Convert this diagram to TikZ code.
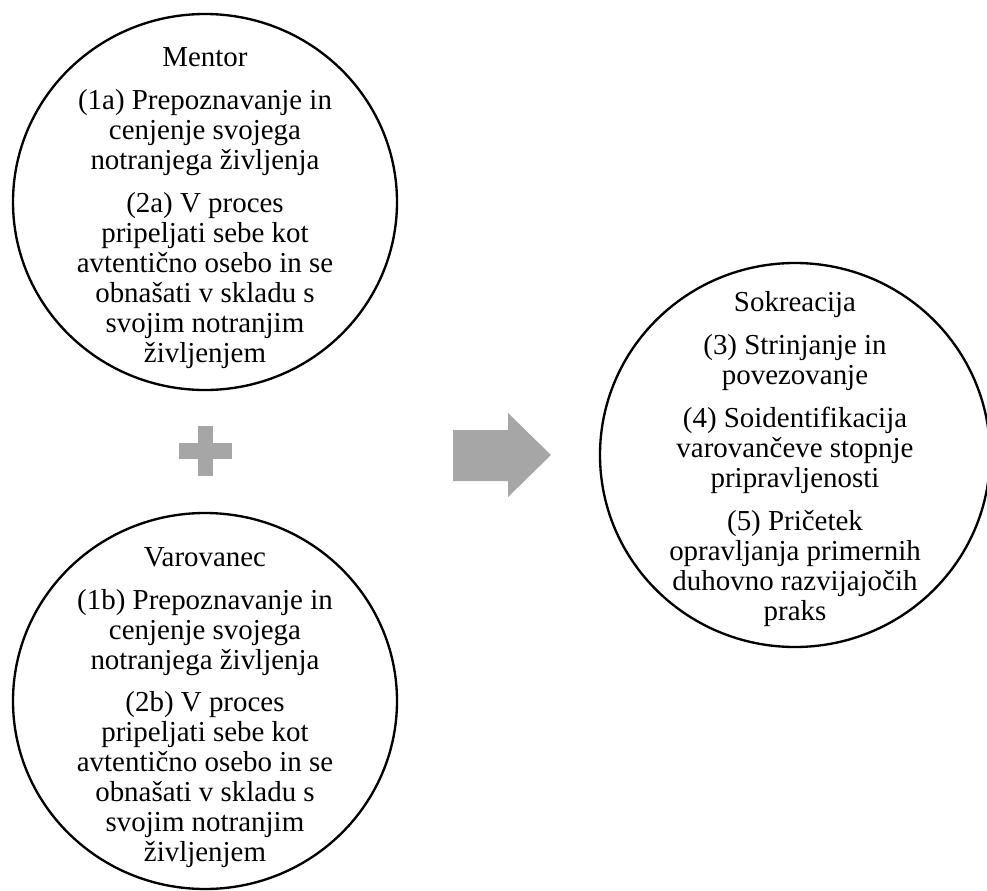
\documentclass[tikz,border=0pt]{standalone}
\usepackage{fontspec}
\setmainfont{Liberation Serif}
\usetikzlibrary{shapes.geometric, positioning}
\definecolor{cgrey}{HTML}{A6A6A6}
\tikzset{
  every picture/.style={line width=2pt},
  bubble/.style={draw=black, ellipse, inner sep=0pt, minimum width=11.52cm, minimum height=11.28cm},
  txt/.style={align=center, inner sep=0pt, font=\fontsize{24.7}{25.6}\selectfont},
}

\begin{document}
\begin{tikzpicture}
  \useasboundingbox (0,0) rectangle (29.61,-26.73);
  % left column: mentor + varovanec
  \node[bubble] (mentor) at (6.15,-6.06) {};
  \node[txt, yshift=-0.18cm] (mentortxt) at (mentor.center)
    {Mentor\\[11pt]
     (1a) Prepoznavanje in\\cenjenje svojega\\notranjega življenja\\[11pt]
     (2a) V proces\\pripeljati sebe kot\\avtentično osebo in se\\obnašati v skladu s\\svojim notranjim\\življenjem};
  \node[bubble] (varovanec) at (6.15,-21.03) {};
  \node[txt, yshift=-0.2cm] (varovanectxt) at (varovanec.center)
    {Varovanec\\[11pt]
     (1b) Prepoznavanje in\\cenjenje svojega\\notranjega življenja\\[11pt]
     (2b) V proces\\pripeljati sebe kot\\avtentično osebo in se\\obnašati v skladu s\\svojim notranjim\\življenjem};
  % plus sign
  \fill[cgrey] (5.93,-12.78) rectangle (6.40,-14.28);
  \fill[cgrey] (5.37,-13.29) rectangle (6.96,-13.78);
  % arrow to the result
  \fill[cgrey] (13.59,-12.90) -- (15.24,-12.90) -- (15.24,-12.39) -- (16.53,-13.65)
    -- (15.24,-14.91) -- (15.24,-14.43) -- (13.59,-14.43) -- cycle;
  % right: sokreacija
  \node[bubble, minimum width=11.7cm, minimum height=11.52cm] (sokreacija) at (23.85,-13.65) {};
  \node[txt, yshift=-0.12cm] (sokreacijatxt) at (sokreacija.center)
    {Sokreacija\\[11pt]
     (3) Strinjanje in\\povezovanje\\[11pt]
     (4) Soidentifikacija\\varovančeve stopnje\\pripravljenosti\\[11pt]
     (5) Pričetek\\opravljanja primernih\\duhovno razvijajočih\\praks};
\end{tikzpicture}
\end{document}
